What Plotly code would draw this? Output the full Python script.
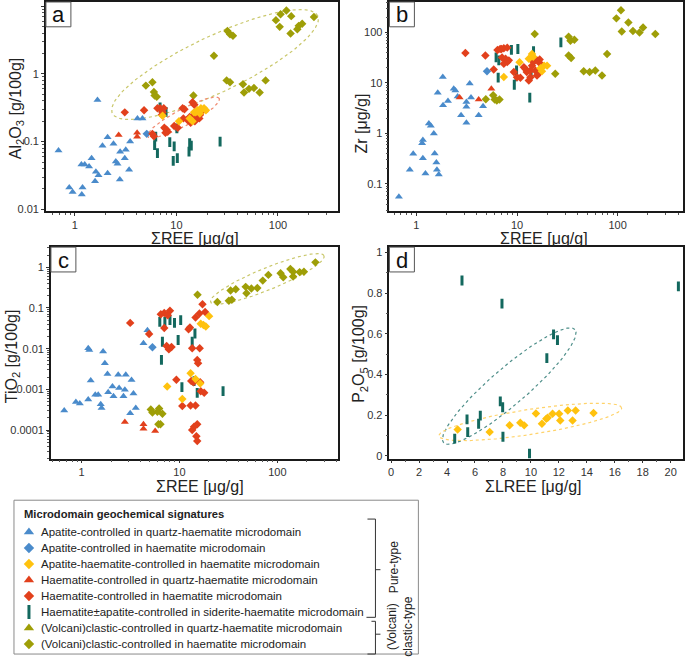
import numpy as np
import plotly.graph_objects as go

# ---------------- DATA ----------------
CATEGORIES = [
    "Apatite-controlled in quartz-haematite microdomain",
    "Apatite-controlled in haematite microdomain",
    "Apatite-haematite-controlled in haematite microdomain",
    "Haematite-controlled in quartz-haematite microdomain",
    "Haematite-controlled in haematite microdomain",
    "Haematite\u00b1apatite-controlled in siderite-haematite microdomain",
    "(Volcani)clastic-controlled in quartz-haematite microdomain",
    "(Volcani)clastic-controlled in haematite microdomain",
]

# Panel a: sum REE vs Al2O3
A_AQ_X = [0.69, 0.88, 0.95, 1.19, 1.17, 1.16, 1.25, 1.38, 1.46, 1.61, 1.58, 1.71, 1.87, 2.10, 2.10, 2.40, 2.53,
          2.63, 2.77, 2.79, 3.10, 3.17, 3.42, 3.50, 4.13, 4.63, 1.67]
A_AQ_Y = [0.074, 0.021, 0.018, 0.021, 0.0166, 0.046, 0.046, 0.043, 0.057, 0.036, 0.026, 0.032, 0.087, 0.116, 0.034,
          0.093, 0.051, 0.047, 0.0275, 0.071, 0.057, 0.076, 0.0385, 0.10, 0.22, 0.22, 0.41]
A_AH_X = [5.1]
A_AH_Y = [0.13]
A_HQ_X = [2.7, 4.1, 4.1]
A_HQ_Y = [0.125, 0.135, 0.118]
A_HH_X = [3.1, 4.8, 5.8, 6.0, 6.5, 6.9, 7.5, 7.2, 7.6, 8.0, 8.2, 7.8, 9.5, 10.3, 11.5, 12.0, 11.7, 12.8, 13.5, 14.4,
          14.4, 15.0, 14.9, 15.5, 16.0, 16.5, 17.0, 17.5, 13.8, 15.2, 16.8, 7.3]
A_HH_Y = [0.27, 0.29, 0.13, 0.12, 0.31, 0.31, 0.31, 0.25, 0.16, 0.15, 0.14, 0.135, 0.17, 0.16, 0.31, 0.30, 0.22, 0.21,
          0.23, 0.22, 0.38, 0.35, 0.25, 0.24, 0.26, 0.24, 0.25, 0.27, 0.19, 0.20, 0.22, 0.27]
A_AHH_X = [7.3, 10.6, 14.4, 14.9, 16.1, 17.4, 18.7, 15.5, 16.8, 13.5, 17.0, 19.5]
A_AHH_Y = [0.24, 0.20, 0.20, 0.27, 0.29, 0.31, 0.31, 0.27, 0.28, 0.22, 0.26, 0.29]
A_HS_X = [6.9, 7.9, 6.25, 6.1, 6.5, 8.6, 9.5, 9.3, 10.2, 10.1, 13.3, 13.5, 14.0, 26.9]
A_HS_Y = [0.32, 0.275, 0.118, 0.089, 0.0675, 0.098, 0.085, 0.052, 0.057, 0.157, 0.071, 0.095, 0.087, 0.10]
A_VH_X = [5.0, 5.8, 6.0, 6.1, 6.4, 14.7, 23.4, 31.8, 33.7, 36.0, 31.2, 33.7, 45.2, 46.3, 51.8, 58, 66, 75.5, 95.4,
          106, 104, 121, 135, 133, 155, 160, 173, 226]
A_VH_Y = [0.67, 0.75, 0.54, 0.48, 0.46, 0.48, 1.85, 4.3, 3.85, 3.64, 0.80, 0.75, 0.70, 0.53, 0.60, 0.62, 0.53, 0.80,
          6.2, 7.55, 4.93, 8.6, 7.1, 3.93, 4.56, 5.1, 5.5, 6.9]

# Panel b: sum REE vs Zr
B_AQ_X = [0.67, 0.86, 0.93, 1.16, 1.14, 1.16, 1.23, 1.33, 1.39, 1.49, 1.52, 1.58, 1.60, 1.67, 1.63, 1.83, 1.84, 2.06,
          2.35, 2.44, 2.57, 2.78, 3.14, 3.14, 3.14, 3.39, 3.49, 4.16, 4.6]
B_AQ_Y = [0.056, 0.19, 0.395, 0.745, 0.64, 0.324, 0.16, 1.58, 1.42, 1.0, 0.40, 0.267, 0.19, 0.153, 6.4, 13.1, 3.62,
          4.4, 7.7, 7.1, 5.4, 2.3, 4.2, 3.36, 1.63, 9.7, 5.13, 2.3, 3.47]
B_AH_X = [5.03]
B_AH_Y = [17.1]
B_HQ_X = [2.69, 4.16, 5.56]
B_HQ_Y = [5.13, 4.69, 7.7]
B_HH_X = [3.07, 4.85, 5.87, 6.4, 6.8, 7.4, 8.0, 7.1, 7.7, 8.3, 7.4, 8.0, 9.3, 10.0, 10.8, 11.7, 12.1, 12.5, 13.1, 13.6,
          14.1, 14.6, 15.8, 16.8, 17.1, 15.2, 16.4, 13.6, 15.8, 7.0]
B_HH_Y = [39.3, 34.9, 18.5, 45, 47, 48.5, 50, 32, 30, 28, 24, 26, 16.4, 13, 12.7, 20.5, 19, 16.4, 11.2, 13, 22, 26, 28,
          29, 24, 17.7, 15.3, 17.7, 14.1, 47]
B_AHH_X = [7.4, 10.6, 13.1, 14.1, 17.1, 17.7, 18.6, 19.9, 14.5]
B_AHH_Y = [13.1, 25.8, 30, 37.5, 19.5, 17.1, 22, 22, 33]
B_HS_X = [6.2, 6.6, 6.5, 8.8, 10.2, 9.9, 9.8, 9.4, 13.4, 14.6, 13.8, 27.3]
B_HS_Y = [32, 28, 12.7, 45, 47, 17.7, 13.5, 9.2, 5.13, 42.4, 14.7, 63.7]
B_VH_X = [4.9, 5.8, 6.0, 6.3, 6.7, 15.0, 24.0, 32.6, 34.0, 37.2, 32.6, 34.5, 46, 52.7, 60, 70, 78.6, 97.2, 108, 110,
          128, 142, 165, 179, 237]
B_VH_Y = [4.75, 5.7, 4.7, 4.5, 4.7, 92.7, 15.2, 82, 68.6, 71.7, 34.9, 31.3, 17.1, 16.4, 17.7, 14.1, 37.5, 190, 275,
          104, 157, 107, 100, 125, 93]

# Panel c: sum REE vs TiO2
C_AQ_X = [0.665, 0.875, 0.96, 1.17, 1.2, 1.17, 1.24, 1.38, 1.48, 1.57, 1.6, 1.66, 1.73, 1.84, 1.87, 2.07, 2.12, 2.37,
          2.42, 2.68, 2.77, 2.83, 3.14, 3.24, 3.39, 3.58, 4.29, 4.71]
C_AQ_Y = [0.0003, 0.00049, 0.00045, 0.0102, 0.0093, 0.00056, 0.00166, 0.00074, 0.00074, 0.00043, 0.00035, 0.0085,
          0.0044, 0.0024, 0.00085, 0.00118, 0.00068, 0.0023, 0.00108, 0.00068, 0.00098, 0.0023, 0.00026, 0.0017,
          0.00079, 0.00035, 0.0135, 0.0285]
C_AH_X = [5.3]
C_AH_Y = [0.0108]
C_HQ_X = [2.77, 4.29, 4.29, 5.65]
C_HQ_Y = [0.000157, 0.000138, 0.000107, 0.000095]
C_HH_X = [3.14, 4.9, 6.45, 7.0, 7.6, 8.0, 7.0, 7.4, 7.8, 8.3, 9.3, 10.7, 12.4, 12.8, 13.2, 13.9, 13.0, 14.6, 13.5, 14.1,
          15.2, 13.5, 14.9, 15.2, 15.2, 15.5, 14.6, 16.0, 17.2, 18.3, 16.1, 16.5, 17.9, 16.3]
C_HH_Y = [0.043, 0.023, 0.07, 0.075, 0.066, 0.085, 0.032, 0.0116, 0.0096, 0.011, 0.00173, 0.00039, 0.03, 0.033, 0.0016,
          0.0015, 0.0004, 0.0004, 0.0102, 0.00012, 0.000138, 0.0001, 0.00007, 0.000054, 0.0053, 0.0044, 0.058, 0.073,
          0.123, 0.08, 0.0102, 0.0009, 0.00082, 0.0015]
C_AHH_X = [7.5, 10.7, 13.0, 14.6, 16.3, 16.5, 17.6, 18.6, 20.1]
C_AHH_Y = [0.00118, 0.00058, 0.0025, 0.0018, 0.0014, 0.041, 0.038, 0.035, 0.063]
C_HS_X = [6.3, 7.1, 8.0, 8.9, 10.3, 6.7, 9.7, 6.55, 10.6, 14.1, 13.5, 14.4, 15.2, 27.9]
C_HS_Y = [0.0457, 0.0457, 0.05, 0.043, 0.05, 0.0148, 0.0163, 0.0053, 0.00114, 0.0016, 0.0148, 0.0236, 0.00082, 0.0009]
C_VH_X = [5.1, 5.3, 6.2, 5.95, 6.7, 6.1, 6.4, 15.3, 24.4, 32, 34.3, 33.3, 37.6, 47.5, 48.4, 54.3, 62.5, 71, 81, 108,
          115, 136, 145, 145, 169, 187, 245]
C_VH_Y = [0.00032, 0.00027, 0.00034, 0.00028, 0.00025, 0.000138, 0.000138, 0.21, 0.14, 0.15, 0.16, 0.27, 0.29, 0.33,
          0.23, 0.3, 0.31, 0.47, 0.65, 0.71, 0.57, 0.91, 0.59, 0.78, 0.76, 0.78, 1.32]

# Panel d: sum LREE vs P2O5
D_HS_X = [5.07, 7.93, 20.55, 11.62, 11.9, 11.14, 7.81, 7.98, 5.43, 6.38, 6.26, 5.48, 4.55, 8.0, 9.9]
D_HS_Y = [0.862, 0.748, 0.833, 0.597, 0.569, 0.48, 0.268, 0.239, 0.179, 0.198, 0.158, 0.117, 0.085, 0.094, 0.011]
D_AHH_X = [4.76, 7.05, 8.48, 9.24, 9.52, 10.36, 10.79, 11.1, 11.2, 11.55, 12.02, 12.1, 12.64, 12.98, 13.2, 14.48]
D_AHH_Y = [0.13, 0.117, 0.151, 0.163, 0.15, 0.208, 0.158, 0.182, 0.187, 0.207, 0.207, 0.174, 0.223, 0.174, 0.223, 0.211]

# Field ellipses (centre, semi-axis vector u, semi-axis vector v); log10 space for log panels
ELL_A_CLASTIC = [(1.380, 0.137), (1.011, 0.72), (-0.120, 0.374)]
ELL_A_HAEM = [(1.069, -0.644), (0.353, 0.280), (-0.038, 0.108)]
ELL_C_CLASTIC = [(1.898, -0.285), (0.579, 0.570), (-0.043, 0.248)]
ELL_D_SID = [(8.45, 0.343), (4.70, 0.278), (-0.857, 0.0676)]
ELL_D_APH = [(9.95, 0.167), (6.54, 0.0691), (-0.138, 0.061)]

# Tick labels
LOG_X_TICKS = [1, 10, 100]
LOG_X_TEXT = ["1", "10", "100"]
A_Y_TICKS = [0.01, 0.1, 1, 10]
A_Y_TEXT = ["0.01", "0.1", "1", "10"]
B_Y_TICKS = [0.1, 1, 10, 100]
B_Y_TEXT = ["0.1", "1", "10", "100"]
C_Y_TICKS = [0.0001, 0.001, 0.01, 0.1, 1]
C_Y_TEXT = ["0.0001", "0.001", "0.01", "0.1", "1"]
D_X_TICKS = [0, 2, 4, 6, 8, 10, 12, 14, 16, 18, 20]
D_Y_TICKS = [0, 0.2, 0.4, 0.6, 0.8, 1]
D_Y_TEXT = ["0", "0.2", "0.4", "0.6", "0.8", "1"]

# ---------------- STYLE ----------------
W, H = 685, 663
BLUE = "#4a8bcb"
YELLOW = "#ffc20e"
RED = "#e2401c"
TEAL = "#13685e"
OLIVE = "#9e9e07"
FONT = "Liberation Sans, Arial, sans-serif"

STYLE = {
    0: dict(symbol="triangle-up", color=BLUE),
    1: dict(symbol="diamond", color=BLUE),
    2: dict(symbol="diamond", color=YELLOW),
    3: dict(symbol="triangle-up", color=RED),
    4: dict(symbol="diamond", color=RED),
    5: dict(symbol="line-ns", color=TEAL),
    6: dict(symbol="triangle-up", color=OLIVE),
    7: dict(symbol="diamond", color=OLIVE),
}


def px(xp):
    return xp / W


def py(yp):
    return 1 - yp / H


def marker(cat, legend=False):
    s = STYLE[cat]
    if s["symbol"] == "line-ns":
        return dict(symbol="line-ns", size=10 if legend else 7, line=dict(width=3, color=s["color"]))
    if s["symbol"] == "diamond":
        size = 8 if legend else 6.5
    else:
        size = 9 if legend else 7
    return dict(symbol=s["symbol"], size=size, color=s["color"], line=dict(width=0))


fig = go.Figure()


def add_pts(x, y, cat, ax):
    fig.add_trace(go.Scatter(x=x, y=y, mode="markers", marker=marker(cat),
                             xaxis="x" + ax, yaxis="y" + ax, showlegend=False, hoverinfo="x+y"))


def add_ellipse(params, color, ax, log=True):
    (cx, cy), (ux, uy), (vx, vy) = params
    t = np.linspace(0, 2 * np.pi, 240)
    ex = cx + ux * np.cos(t) + vx * np.sin(t)
    ey = cy + uy * np.cos(t) + vy * np.sin(t)
    if log:
        ex, ey = 10 ** ex, 10 ** ey
    fig.add_trace(go.Scatter(x=ex, y=ey, mode="lines", line=dict(color=color, width=1.2, dash="dot"),
                             xaxis="x" + ax, yaxis="y" + ax, showlegend=False, hoverinfo="skip"))


# Panel a
add_ellipse(ELL_A_CLASTIC, "#c9c76a", "")
add_ellipse(ELL_A_HAEM, "#f08a70", "")
add_pts(A_AQ_X, A_AQ_Y, 0, "")
add_pts(A_AH_X, A_AH_Y, 1, "")
add_pts(A_HQ_X, A_HQ_Y, 3, "")
add_pts(A_HS_X, A_HS_Y, 5, "")
add_pts(A_VH_X, A_VH_Y, 7, "")
add_pts(A_HH_X, A_HH_Y, 4, "")
add_pts(A_AHH_X, A_AHH_Y, 2, "")
# Panel b
add_pts(B_AQ_X, B_AQ_Y, 0, "2")
add_pts(B_AH_X, B_AH_Y, 1, "2")
add_pts(B_HQ_X, B_HQ_Y, 3, "2")
add_pts(B_HS_X, B_HS_Y, 5, "2")
add_pts(B_VH_X, B_VH_Y, 7, "2")
add_pts(B_HH_X, B_HH_Y, 4, "2")
add_pts(B_AHH_X, B_AHH_Y, 2, "2")
# Panel c
add_ellipse(ELL_C_CLASTIC, "#c9c76a", "3")
add_pts(C_AQ_X, C_AQ_Y, 0, "3")
add_pts(C_AH_X, C_AH_Y, 1, "3")
add_pts(C_HQ_X, C_HQ_Y, 3, "3")
add_pts(C_HS_X, C_HS_Y, 5, "3")
add_pts(C_VH_X, C_VH_Y, 7, "3")
add_pts(C_HH_X, C_HH_Y, 4, "3")
add_pts(C_AHH_X, C_AHH_Y, 2, "3")
# Panel d
add_ellipse(ELL_D_SID, "#4f8f8a", "4", log=False)
add_ellipse(ELL_D_APH, "#ffd36a", "4", log=False)
add_pts(D_HS_X, D_HS_Y, 5, "4")
add_pts(D_AHH_X, D_AHH_Y, 2, "4")

# Legend symbols (hidden axis, one row per category)
for i, name in enumerate(CATEGORIES):
    fig.add_trace(go.Scatter(x=[0], y=[i], mode="markers", marker=marker(i, legend=True),
                             xaxis="x5", yaxis="y5", showlegend=False, hoverinfo="skip"))


def minor_log(lo, hi):
    vals = []
    for k in range(int(np.floor(lo)) - 1, int(np.ceil(hi)) + 1):
        for m in range(2, 10):
            v = m * 10.0 ** k
            if lo <= np.log10(v) <= hi:
                vals.append(v)
    return vals


TICKFONT = dict(size=11, color="#333", family=FONT)


def axis(domain, rng, tickvals, ticktext, anchor, log=True, minor_vals=None):
    d = dict(domain=domain, range=rng, tickmode="array", tickvals=tickvals, ticktext=ticktext,
             ticks="outside", ticklen=3, tickwidth=1, tickcolor="#333",
             showline=True, linecolor="#1a1a1a", linewidth=1.5, mirror=True, showgrid=False, zeroline=False,
             tickfont=TICKFONT, anchor=anchor, fixedrange=True)
    if log:
        d["type"] = "log"
        mv = minor_log(rng[0], rng[1])
    else:
        mv = minor_vals or []
    d["minor"] = dict(tickmode="array", tickvals=mv, ticks="outside", ticklen=2, tickcolor="#555", showgrid=False)
    return d


XA = [px(45), px(337)]
XB = [px(389), px(683)]
XC = [px(50), px(337)]
YAB = [py(212), py(1)]
YCD = [py(461), py(248)]

layout = dict(
    width=W, height=H, margin=dict(l=0, r=0, t=0, b=0), paper_bgcolor="white", plot_bgcolor="white",
    font=dict(family=FONT, color="#222"), showlegend=False,
    xaxis=axis(XA, [-0.285, 2.586], LOG_X_TICKS, LOG_X_TEXT, "y"),
    yaxis=axis(YAB, [-2.03, 1.06], A_Y_TICKS, A_Y_TEXT, "x"),
    xaxis2=axis(XB, [-0.268, 2.65], LOG_X_TICKS, LOG_X_TEXT, "y2"),
    yaxis2=axis(YAB, [-1.544, 2.603], B_Y_TICKS, B_Y_TEXT, "x2"),
    xaxis3=axis(XC, [-0.313, 2.615], LOG_X_TICKS, LOG_X_TEXT, "y3"),
    yaxis3=axis(YCD, [-4.7, 0.495], C_Y_TICKS, C_Y_TEXT, "x3"),
    xaxis4=axis(XB, [-0.12, 20.88], D_X_TICKS, [str(v) for v in D_X_TICKS], "y4", log=False,
                minor_vals=[1, 3, 5, 7, 9, 11, 13, 15, 17, 19]),
    yaxis4=axis(YCD, [-0.013, 1.026], D_Y_TICKS, D_Y_TEXT, "x4", log=False,
                minor_vals=[0.1, 0.3, 0.5, 0.7, 0.9]),
    xaxis5=dict(domain=[px(20), px(420)], range=[-1, 49], visible=False, anchor="y5", fixedrange=True),
    yaxis5=dict(domain=[py(656), py(527)], range=[7.5, -0.5], visible=False, anchor="x5", fixedrange=True),
)
fig.update_layout(**layout)

shapes = []
annotations = []

# Panel letter boxes
for letter, ax, wpx, hpx in [("a", "", 292, 211), ("b", "2", 294, 211), ("c", "3", 287, 213), ("d", "4", 294, 213)]:
    xr = ("x" + ax + " domain")
    yr = ("y" + ax + " domain")
    shapes.append(dict(type="rect", xref=xr, yref=yr, x0=0, x1=25 / wpx, y0=1 - 25 / hpx, y1=1,
                       line=dict(color="#555", width=1), fillcolor="white", layer="above"))
    annotations.append(dict(xref=xr, yref=yr, x=12.5 / wpx, y=1 - 13 / hpx, text=letter, showarrow=False,
                            font=dict(size=22, color="#111", family=FONT), xanchor="center", yanchor="middle"))

# Axis titles
TITLE_FONT = dict(size=16, color="#222", family=FONT)
for txt, xp, yp in [("\u03a3REE [\u03bcg/g]", 194, 239), ("\u03a3REE [\u03bcg/g]", 544, 239),
                    ("\u03a3REE [\u03bcg/g]", 199, 489), ("\u03a3LREE [\u03bcg/g]", 533, 489)]:
    annotations.append(dict(xref="paper", yref="paper", x=px(xp), y=py(yp), text=txt, showarrow=False,
                            font=TITLE_FONT, xanchor="center", yanchor="middle"))
for txt, xp, yp in [("Al<sub>2</sub>O<sub>3</sub> [g/100g]", 15, 108), ("Zr [\u03bcg/g]", 361, 123),
                    ("TiO<sub>2</sub> [g/100g]", 11, 358), ("P<sub>2</sub>O<sub>5</sub> [g/100g]", 359, 355)]:
    annotations.append(dict(xref="paper", yref="paper", x=px(xp), y=py(yp), text=txt, showarrow=False,
                            font=TITLE_FONT, textangle=-90, xanchor="center", yanchor="middle"))

# Legend box
shapes.append(dict(type="rect", xref="paper", yref="paper", x0=px(13), x1=px(418), y0=py(658), y1=py(503),
                   line=dict(color="#8a8a8a", width=1), fillcolor="rgba(0,0,0,0)"))
annotations.append(dict(xref="paper", yref="paper", x=px(21), y=py(517), text="<b>Microdomain geochemical signatures</b>",
                        showarrow=False, font=dict(size=11.2, color="#222", family=FONT), xanchor="left",
                        yanchor="middle"))
for i, name in enumerate(CATEGORIES):
    annotations.append(dict(xref="x5", yref="y5", x=1.3, y=i, text=name, showarrow=False,
                            font=dict(size=11.5, color="#222", family=FONT), xanchor="left", yanchor="middle"))

# Brackets
BR = "#333"
for (x0, y0, x1, y1) in [(367, 522, 375, 522), (375, 522, 375, 621), (366, 621, 375, 621), (375, 573, 380, 573),
                         (371, 625, 375, 625), (375, 625, 375, 658), (367, 658, 375, 658), (375, 638, 380, 638)]:
    shapes.append(dict(type="line", xref="paper", yref="paper", x0=px(x0), x1=px(x1), y0=py(y0), y1=py(y1),
                       line=dict(color=BR, width=1)))
annotations.append(dict(xref="paper", yref="paper", x=px(393), y=py(570), text="Pure-type", showarrow=False,
                        textangle=-90, font=dict(size=12, color="#222", family=FONT), xanchor="center",
                        yanchor="middle"))
annotations.append(dict(xref="paper", yref="paper", x=px(400), y=py(630), text="(Volcani)<br>clastic-type",
                        showarrow=False, textangle=-90, font=dict(size=12, color="#222", family=FONT),
                        xanchor="center", yanchor="middle"))

fig.update_layout(shapes=shapes, annotations=annotations)
fig.write_html("out.html")
